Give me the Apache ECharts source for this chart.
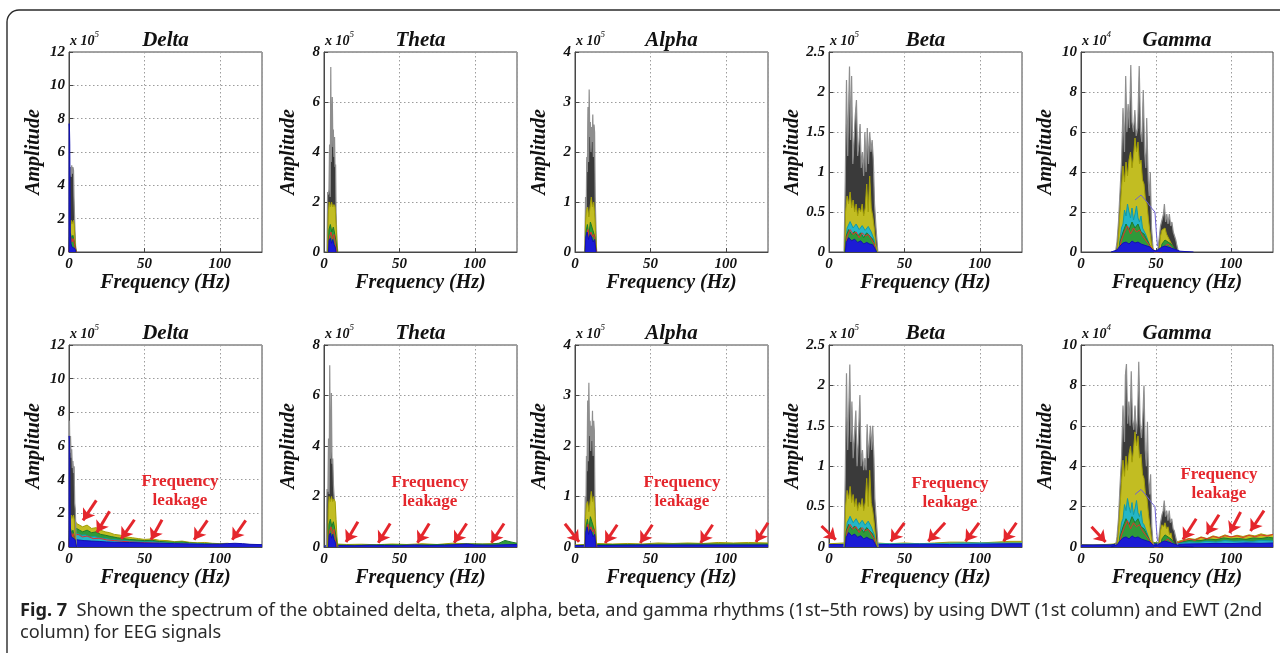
<!DOCTYPE html>
<html>
<head>
<meta charset="utf-8">
<title>EEG rhythm spectra: DWT vs EWT</title>
<script src="https://cdn.jsdelivr.net/npm/echarts@6/dist/echarts.min.js"></script>
<style>
  html, body { margin: 0; padding: 0; background: #ffffff; }
  #chart { width: 1280px; height: 653px; }
</style>
</head>
<body>
<div id="chart"></div>
<script>
// ---------------- axis settings ----------------
const rhythmNames = ['Delta', 'Theta', 'Alpha', 'Beta', 'Gamma'];
const yMaxima = [12, 8, 4, 2.5, 10];
const yIntervals = [2, 2, 1, 0.5, 2];
const exponents = ['5', '5', '5', '5', '4'];
const freqMax = 128;
const freqInterval = 50;

// ---------------- spectra: [frequency Hz, amplitude] ----------------
// Delta (amplitude x 10^5)
const deltaDwtDark = [[0,0],[0.3,5.0],[0.7,4.6],[1.0,5.1],[1.4,4.5],[1.8,5.2],[2.2,4.7],[2.6,5.1],[3.0,4.9],[3.3,3.3],[3.7,3.2],[4.0,1.2],[4.4,0.3],[4.8,0]];
const deltaDwtBlue = [[0,0],[0.1,7.7],[0.3,7.5],[0.5,6.5],[0.7,3.8],[0.9,1.2],[1.3,0.5],[2.0,0.3],[3.0,0.35],[4.0,0.2],[4.6,0]];
const deltaEwtDark = [[0,0],[0.3,7.5],[0.6,5.6],[1.0,6.6],[1.4,5.3],[1.8,5.8],[2.2,4.7],[2.6,5.1],[3.0,4.4],[3.4,4.8],[3.8,2.6],[4.2,2.2],[4.6,0.7],[5.0,0]];
const deltaEwtBlue = [[0,0],[0.1,6.6],[0.3,6.4],[0.5,5.2],[0.7,2.5],[1.0,1.0],[1.5,0.6],[2.5,0.5],[4.0,0.45],[5.0,0]];
const deltaBandYellow = [[0,0],[0.2,1.3],[0.6,1.9],[1.0,1.6],[1.5,1.9],[2.0,1.7],[2.5,1.8],[3.0,1.9],[3.5,1.6],[4.0,0.7],[4.5,0.2],[5.0,0]];
const deltaBandGreen = [[0,0],[0.3,0.9],[1.0,1.1],[1.8,0.8],[2.6,1.0],[3.4,0.9],[4.2,0.3],[4.8,0]];
const deltaBandRed = [[0,0],[0.4,0.7],[1.2,0.9],[2.0,0.6],[2.8,0.8],[3.6,0.5],[4.4,0.1],[5.0,0]];
const deltaLeakYellow = [[0,1.5],[2,1.8],[4,1.6],[5,1.4],[7,1.3],[9,1.2],[12,1.3],[15,1.1],[18,1.15],[21,1.0],[24,0.9],[27,0.85],[30,0.75],[34,0.7],[38,0.6],[42,0.55],[46,0.5],[50,0.45],[55,0.48],[60,0.4],[65,0.38],[70,0.32],[75,0.35],[80,0.28],[85,0.25],[90,0.27],[95,0.22],[100,0.2],[105,0.22],[110,0.18],[115,0.16],[120,0.15],[128,0.13]];
const deltaLeakGreen = [[0,0.9],[1.5,1.2],[3,1.0],[5,1.1],[7,1.0],[9,0.9],[12,1.0],[15,0.85],[18,0.9],[21,0.75],[24,0.7],[28,0.62],[32,0.55],[36,0.5],[40,0.45],[45,0.42],[50,0.38],[55,0.4],[60,0.33],[65,0.3],[70,0.28],[75,0.3],[80,0.24],[85,0.22],[90,0.2],[95,0.18],[100,0.17],[105,0.16],[110,0.15],[115,0.14],[120,0.12],[128,0.11]];
const deltaLeakCyan = [[0,0.7],[2,0.8],[4,0.75],[6,0.8],[8,0.7],[11,0.72],[14,0.6],[17,0.62],[20,0.55],[24,0.5],[28,0.45],[32,0.42],[36,0.38],[40,0.35],[45,0.32],[50,0.3],[55,0.31],[60,0.26],[65,0.24],[70,0.22],[75,0.23],[80,0.2],[90,0.17],[100,0.14],[110,0.12],[120,0.1],[128,0.09]];
const deltaLeakRed = [[0,0.8],[2,0.9],[4,0.7],[6,0.75],[9,0.6],[12,0.65],[16,0.5],[20,0.52],[25,0.42],[30,0.38],[35,0.34],[40,0.3],[50,0.26],[60,0.22],[70,0.2],[80,0.16],[90,0.14],[100,0.12],[110,0.11],[120,0.09],[128,0.08]];
const deltaLeakBlue = [[0,0.4],[2.5,0.5],[4,0.45],[6,0.42],[10,0.38],[15,0.35],[20,0.33],[25,0.3],[30,0.28],[40,0.27],[50,0.24],[60,0.22],[70,0.2],[80,0.18],[90,0.16],[100,0.17],[105,0.2],[110,0.22],[115,0.2],[120,0.16],[128,0.14]];

// Theta (amplitude x 10^5)
const thetaDwtDark = [[2.0,0],[2.4,2.4],[2.9,2.3],[3.3,2.5],[3.7,4.3],[4.1,2.2],[4.5,7.4],[4.8,3.6],[5.2,5.0],[5.5,6.2],[5.9,4.2],[6.2,4.9],[6.6,3.8],[7.0,4.6],[7.3,3.4],[7.7,3.5],[8.0,1.6],[8.4,0.8],[8.8,0]];
const thetaEwtDark = [[1.5,0],[2.0,2.3],[2.6,2.2],[3.0,4.3],[3.4,2.1],[3.8,7.2],[4.2,3.5],[4.6,4.0],[4.9,6.1],[5.3,3.3],[5.8,3.5],[6.3,2.4],[6.8,1.9],[7.2,1.0],[7.7,0]];
const thetaBandYellow = [[2.4,0],[2.8,1.5],[3.4,2.0],[4.2,1.8],[5.0,2.0],[5.8,1.8],[6.6,1.9],[7.4,1.8],[8.0,1.1],[8.6,0.4],[9.2,0]];
const thetaBandGreen = [[2.8,0],[3.3,0.9],[4.2,1.1],[5.2,0.8],[6.2,1.0],[7.2,0.7],[8.0,0.4],[8.8,0]];
const thetaBandRed = [[3.0,0],[3.6,0.6],[4.6,0.8],[5.6,0.5],[6.6,0.7],[7.6,0.3],[8.4,0]];
const thetaBandBlue = [[3.0,0],[3.4,0.45],[4.2,0.55],[5.0,0.35],[5.8,0.5],[6.6,0.3],[7.4,0.2],[8.0,0]];
const thetaLeakYellow = [[0,0.05],[8,0.12],[15,0.1],[25,0.11],[35,0.09],[45,0.12],[55,0.1],[65,0.13],[75,0.1],[85,0.15],[95,0.13],[105,0.12],[115,0.14],[128,0.12]];
const thetaLeakGreen = [[0,0.04],[10,0.08],[20,0.07],[40,0.09],[60,0.08],[80,0.1],[95,0.12],[110,0.11],[116,0.15],[120,0.26],[124,0.2],[128,0.15]];
const thetaLeakBlue = [[0,0.04],[10,0.06],[20,0.05],[30,0.07],[40,0.06],[50,0.05],[60,0.08],[70,0.06],[80,0.07],[90,0.1],[95,0.12],[100,0.08],[110,0.07],[120,0.09],[128,0.1]];

// Alpha (amplitude x 10^5)
const alphaDwtDark = [[6.5,0],[7.0,1.1],[7.4,0.7],[7.8,1.9],[8.2,1.6],[8.6,2.9],[9.0,1.8],[9.4,3.25],[9.8,2.3],[10.2,2.6],[10.6,2.0],[11.0,2.5],[11.4,2.2],[11.8,2.75],[12.2,1.9],[12.6,2.55],[13.0,2.4],[13.4,1.1],[13.8,0.6],[14.3,0]];
const alphaEwtDark = [[6.3,0],[6.8,1.0],[7.2,0.6],[7.6,1.8],[8.0,1.5],[8.4,2.9],[8.8,1.7],[9.2,3.25],[9.6,2.2],[10.0,2.5],[10.4,1.9],[10.8,2.4],[11.2,2.1],[11.6,2.7],[12.0,1.8],[12.4,2.5],[12.8,2.3],[13.2,1.0],[13.6,0.5],[14.1,0]];
const alphaBandYellow = [[6.6,0],[7.0,0.6],[7.6,0.85],[8.4,0.9],[9.2,0.7],[10.0,0.9],[10.8,1.1],[11.6,0.9],[12.4,1.0],[13.2,0.7],[13.8,0.3],[14.4,0]];
const alphaBandGreen = [[6.8,0],[7.3,0.4],[8.2,0.55],[9.2,0.35],[10.2,0.6],[11.2,0.5],[12.2,0.4],[13.2,0.3],[14.0,0]];
const alphaBandRed = [[7.0,0],[7.6,0.3],[8.6,0.45],[9.6,0.25],[10.6,0.4],[11.6,0.3],[12.6,0.35],[13.6,0.1],[14.2,0]];
const alphaBandBlue = [[6.7,0],[7.2,0.3],[8.0,0.4],[9.0,0.25],[10.0,0.35],[11.0,0.3],[12.0,0.2],[13.0,0.25],[14.0,0]];
const alphaLeakYellow = [[0,0.04],[6,0.05],[15,0.07],[25,0.06],[35,0.07],[45,0.06],[55,0.08],[65,0.07],[75,0.08],[85,0.07],[95,0.09],[105,0.08],[115,0.09],[128,0.08]];
const alphaLeakGreen = [[0,0.03],[15,0.05],[40,0.05],[70,0.06],[100,0.06],[128,0.06]];
const alphaLeakBlue = [[0,0.03],[20,0.03],[50,0.04],[80,0.04],[110,0.04],[128,0.04]];

// Beta (amplitude x 10^5)
const betaDwtDark = [[10,0],[10.8,0.9],[11.6,2.15],[12.4,1.2],[13.0,1.8],[13.6,2.32],[14.3,1.4],[15.0,2.2],[15.8,1.1],[16.6,1.4],[17.4,1.7],[18.2,1.9],[19.0,1.2],[19.8,1.35],[20.6,1.6],[21.4,1.05],[22.2,1.25],[23.0,0.95],[23.8,1.5],[24.6,1.0],[25.4,1.55],[26.2,1.1],[27.0,1.5],[27.8,1.25],[28.6,1.4],[29.4,1.15],[30.2,0.6],[31.2,0.3],[32.4,0]];
const betaEwtDark = [[10,0],[10.8,0.9],[11.6,2.15],[12.4,1.2],[13.0,1.6],[13.8,2.26],[14.5,1.3],[15.2,1.8],[16.0,1.1],[16.8,1.35],[17.8,1.69],[18.6,1.0],[19.4,1.3],[20.5,1.88],[21.3,1.0],[22.2,1.2],[23.0,0.95],[23.8,1.1],[24.6,0.95],[25.3,1.52],[26.1,1.1],[26.8,1.3],[27.5,1.5],[28.3,1.2],[29.0,1.5],[29.8,1.1],[30.4,0.6],[31.5,0.3],[32.6,0]];
const betaBandYellow = [[10.4,0],[11,0.5],[12,0.7],[13,0.6],[14,0.75],[15,0.55],[16,0.65],[17,0.5],[18,0.6],[19,0.45],[20,0.55],[21,0.5],[22,0.6],[23,0.45],[24,0.55],[25,0.85],[26,0.5],[27,0.95],[28,0.55],[29,0.45],[30,0.3],[31,0.1],[32,0]];
const betaBandCyan = [[10.8,0],[12,0.3],[14,0.38],[16,0.3],[18,0.35],[20,0.28],[22,0.33],[24,0.27],[26,0.32],[28,0.25],[30,0.15],[31,0]];
const betaBandGreen = [[10.6,0],[11.4,0.2],[13,0.28],[15,0.22],[17,0.26],[19,0.2],[21,0.24],[23,0.18],[25,0.24],[27,0.2],[29,0.16],[30.5,0.06],[31.5,0]];
const betaBandRed = [[11,0],[12,0.2],[14,0.28],[16,0.22],[18,0.25],[20,0.18],[22,0.24],[24,0.2],[26,0.22],[28,0.16],[30,0.1],[31,0]];
const betaBandBlue = [[10.8,0],[11.5,0.12],[13,0.18],[15,0.14],[17,0.16],[19,0.12],[21,0.14],[23,0.1],[25,0.12],[27,0.1],[29,0.09],[30.5,0.04],[31.5,0]];
const betaLeakYellow = [[0,0.04],[10,0.05],[32,0.05],[40,0.04],[50,0.05],[60,0.04],[70,0.05],[80,0.06],[90,0.06],[100,0.05],[110,0.06],[120,0.07],[128,0.07]];
const betaLeakCyan = [[0,0.03],[30,0.04],[60,0.04],[90,0.05],[128,0.05]];
const betaLeakBlue = [[0,0.03],[20,0.03],[40,0.03],[60,0.035],[80,0.03],[100,0.035],[120,0.04],[128,0.04]];

// Gamma (amplitude x 10^4)
const gammaDwtDark = [[23,0],[24,0.5],[25,1.5],[26,3.0],[27,4.5],[28,7.2],[29,5.0],[29.8,8.8],[30.6,6.0],[31.4,7.4],[32.3,6.2],[33.2,9.35],[34.0,6.5],[35.0,6.0],[35.9,7.1],[36.8,5.8],[37.8,6.2],[38.8,9.3],[39.7,6.0],[40.6,5.5],[41.5,8.1],[42.4,5.0],[43.2,4.2],[43.8,6.7],[44.8,3.6],[45.5,2.8],[46.2,4.0],[47.0,1.2],[48.0,0.2],[49,0],[51,0],[52,0.6],[53,1.3],[54,1.6],[55,1.9],[55.6,2.4],[56.4,1.5],[57.2,1.9],[58.0,1.4],[58.9,1.9],[59.8,1.3],[60.6,1.5],[61.5,1.0],[62.3,0.9],[63.2,0.6],[64,0.3],[65,0]];
const gammaEwtDark = [[23,0],[24,0.5],[25,1.4],[26,3.0],[27,4.4],[28,7.0],[29,5.2],[29.6,8.5],[30.3,9.06],[31.1,6.1],[31.9,7.2],[32.7,6.0],[33.5,8.7],[34.3,6.3],[35.2,5.8],[36.0,7.0],[36.9,5.6],[37.7,6.3],[38.5,9.17],[39.4,6.1],[40.3,5.4],[41.2,6.4],[42.0,8.0],[42.8,4.8],[43.6,4.0],[44.3,6.2],[45.0,3.4],[45.8,2.6],[46.4,3.6],[47.2,1.0],[48.0,0.2],[49,0],[51,0],[52,0.5],[53,1.2],[54,1.6],[54.8,1.8],[55.5,2.3],[56.3,1.5],[57.1,1.8],[58.0,1.3],[58.8,1.8],[59.6,1.2],[60.5,1.4],[61.4,0.9],[62.2,0.8],[63.1,0.5],[64,0.2],[65,0]];
const gammaBandYellow = [[24,0],[25,0.8],[26,2.0],[27,3.2],[28,4.3],[29,3.5],[30,4.5],[31,3.8],[32,4.6],[33,5.0],[34,4.2],[35,4.8],[36,5.7],[37,5.0],[38,5.5],[39,4.4],[40,4.6],[41,3.6],[42,3.4],[43,2.6],[44,2.4],[45,1.6],[46,1.0],[47,0.4],[48,0.1],[49,0],[52,0],[53,0.8],[54,1.1],[55,1.0],[56,1.2],[57,0.9],[58,1.0],[59,0.6],[60,0.7],[61,0.3],[62,0.2],[63,0]];
const gammaBandCyan = [[25,0],[26,0.6],[27,1.2],[28,1.4],[29,2.1],[30,1.8],[31,2.4],[32,2.0],[33,1.7],[34,2.2],[35,1.6],[36,1.9],[37,2.3],[38,1.7],[39,1.5],[40,1.8],[41,1.2],[42,1.1],[43,0.9],[44,0.7],[45,0.5],[46,0.3],[47,0.1],[48,0]];
const gammaBandGreen = [[25,0],[26,0.5],[28,1.0],[30,1.4],[32,1.1],[34,1.5],[36,1.2],[38,1.4],[40,1.0],[42,0.9],[44,0.6],[46,0.3],[48,0.05],[49,0],[53,0],[54,0.4],[56,0.6],[58,0.5],[60,0.4],[62,0.2],[64,0]];
const gammaBandRed = [[25,0],[27,0.6],[29,1.0],[31,1.3],[33,0.9],[35,1.2],[37,1.0],[39,1.1],[41,0.8],[43,0.6],[45,0.4],[47,0.2],[49,0],[54,0],[56,0.3],[58,0.4],[60,0.25],[62,0.1],[64,0]];
const gammaBandBlue = [[20,0],[24,0.1],[26,0.3],[28,0.45],[30,0.5],[32,0.4],[34,0.55],[36,0.45],[38,0.5],[40,0.4],[42,0.35],[44,0.3],[46,0.25],[48,0.1],[50,0.05],[52,0.15],[54,0.25],[56,0.3],[58,0.25],[60,0.2],[62,0.15],[64,0.1],[66,0.04],[70,0.02],[75,0]];
const gammaBandViolet = [[36,2.6],[40,2.85],[44,2.5],[47,2.2],[49.3,2.0],[50.2,1.0],[51,0.3]];
const gammaLeakYellow = [[0,0.12],[8,0.1],[16,0.12],[22,0.15],[26,0.3],[46,0.3],[50,0.2],[60,0.25],[65,0.28],[68,0.35],[72,0.42],[76,0.38],[80,0.5],[84,0.42],[88,0.55],[92,0.48],[96,0.6],[100,0.5],[104,0.58],[108,0.52],[112,0.6],[116,0.55],[120,0.65],[124,0.58],[128,0.62]];
const gammaLeakGreen = [[0,0.08],[20,0.1],[26,0.2],[60,0.2],[65,0.22],[70,0.3],[75,0.35],[80,0.32],[85,0.4],[90,0.36],[95,0.45],[100,0.4],[105,0.42],[110,0.38],[115,0.45],[120,0.42],[125,0.48],[128,0.45]];
const gammaLeakCyan = [[0,0.06],[60,0.15],[66,0.18],[72,0.25],[78,0.22],[84,0.28],[90,0.25],[96,0.32],[102,0.28],[108,0.3],[114,0.27],[120,0.33],[128,0.3]];
const gammaLeakRed = [[64,0.2],[68,0.3],[72,0.4],[76,0.33],[80,0.48],[84,0.4],[88,0.52],[92,0.45],[96,0.56],[100,0.5],[104,0.55],[108,0.47],[112,0.58],[116,0.5],[120,0.6],[124,0.54],[128,0.62]];
const gammaLeakBlue = [[0,0.1],[10,0.1],[20,0.1],[24,0.15],[48,0.15],[56,0.15],[64,0.12],[70,0.15],[80,0.16],[90,0.18],[100,0.17],[110,0.2],[120,0.18],[128,0.2]];

// Leakage arrows, each [[tail f, tail amp], [head f, head amp]]
const deltaArrows = [[[18.1,2.77],[9.3,1.58]],[[26.9,2.12],[18.5,0.87]],[[43.4,1.62],[34.6,0.48]],[[61.7,1.62],[54.4,0.43]],[[91.8,1.58],[83.0,0.43]],[[117.2,1.58],[108.3,0.43]]];
const thetaArrows = [[[22.5,1.0],[14.6,0.2]],[[43.9,0.93],[36.0,0.17]],[[69.8,0.93],[62.0,0.17]],[[94.6,0.93],[86.3,0.17]],[[119.4,0.93],[111.0,0.17]]];
const alphaArrows = [[[-6.7,0.46],[2.7,0.1]],[[28.0,0.44],[20.0,0.08]],[[51.3,0.44],[43.3,0.08]],[[91.3,0.44],[83.3,0.08]],[[128.0,0.48],[120.0,0.1]]];
const betaArrows = [[[-5.0,0.26],[4.5,0.09]],[[50.0,0.3],[41.0,0.07]],[[77.0,0.3],[65.8,0.07]],[[99.5,0.3],[90.5,0.07]],[[124.3,0.3],[115.8,0.07]]];
const gammaArrows = [[[7.0,1.0],[16.4,0.25]],[[76.8,1.4],[68.0,0.37]],[[92.0,1.6],[83.8,0.63]],[[106.4,1.73],[99.1,0.69]],[[122.0,1.8],[113.0,0.79]]];

// ---------------- layout & styles ----------------
const COL_LEFT = [69, 324, 575, 829, 1081];
const ROW_TOP = [52, 345];
const ROW_H = [200, 202];
const PLOT_W = 193;
const SERIF = '"Liberation Serif", "Times New Roman", serif';
const INK = '#111111';

const layerStyle = {
  dark:   { area: '#3a3a3a', line: '#8e8e8e', width: 1.2 },
  yellow: { area: '#c2bd22', line: '#a39f08', width: 1 },
  cyan:   { area: '#25b6c6', line: '#129aa8', width: 1 },
  green:  { area: '#2f9a3a', line: '#1e7a2a', width: 1 },
  red:    { area: null,      line: '#e2302b', width: 1 },
  blue:   { area: '#1c1cd6', line: '#1212b0', width: 1 },
  violet: { area: null,      line: '#6e62d4', width: 1 }
};

const panels = [
  // first row: DWT
  { row: 0, col: 0, layers: [['dark', deltaDwtDark], ['yellow', deltaBandYellow], ['green', deltaBandGreen], ['red', deltaBandRed], ['blue', deltaDwtBlue]] },
  { row: 0, col: 1, layers: [['dark', thetaDwtDark], ['yellow', thetaBandYellow], ['green', thetaBandGreen], ['red', thetaBandRed], ['blue', thetaBandBlue]] },
  { row: 0, col: 2, layers: [['dark', alphaDwtDark], ['yellow', alphaBandYellow], ['green', alphaBandGreen], ['red', alphaBandRed], ['blue', alphaBandBlue]] },
  { row: 0, col: 3, layers: [['dark', betaDwtDark], ['yellow', betaBandYellow], ['cyan', betaBandCyan], ['green', betaBandGreen], ['red', betaBandRed], ['blue', betaBandBlue]] },
  { row: 0, col: 4, layers: [['dark', gammaDwtDark], ['yellow', gammaBandYellow], ['cyan', gammaBandCyan], ['green', gammaBandGreen], ['red', gammaBandRed], ['blue', gammaBandBlue], ['violet', gammaBandViolet]] },
  // second row: EWT (with leakage outside the band)
  { row: 1, col: 0, arrows: deltaArrows, note: [180, 491],
    layers: [['yellow', deltaLeakYellow], ['green', deltaLeakGreen], ['cyan', deltaLeakCyan], ['red', deltaLeakRed], ['blue', deltaLeakBlue],
             ['dark', deltaEwtDark], ['yellow', deltaBandYellow], ['green', deltaBandGreen], ['red', deltaBandRed], ['blue', deltaEwtBlue]] },
  { row: 1, col: 1, arrows: thetaArrows, note: [430, 492],
    layers: [['yellow', thetaLeakYellow], ['green', thetaLeakGreen], ['blue', thetaLeakBlue],
             ['dark', thetaEwtDark], ['yellow', thetaBandYellow], ['green', thetaBandGreen], ['red', thetaBandRed], ['blue', thetaBandBlue]] },
  { row: 1, col: 2, arrows: alphaArrows, note: [682, 492],
    layers: [['yellow', alphaLeakYellow], ['green', alphaLeakGreen], ['blue', alphaLeakBlue],
             ['dark', alphaEwtDark], ['yellow', alphaBandYellow], ['green', alphaBandGreen], ['red', alphaBandRed], ['blue', alphaBandBlue]] },
  { row: 1, col: 3, arrows: betaArrows, note: [950, 493],
    layers: [['yellow', betaLeakYellow], ['cyan', betaLeakCyan], ['blue', betaLeakBlue],
             ['dark', betaEwtDark], ['yellow', betaBandYellow], ['cyan', betaBandCyan], ['green', betaBandGreen], ['red', betaBandRed], ['blue', betaBandBlue]] },
  { row: 1, col: 4, arrows: gammaArrows, note: [1219, 484],
    layers: [['yellow', gammaLeakYellow], ['green', gammaLeakGreen], ['cyan', gammaLeakCyan], ['red', gammaLeakRed], ['blue', gammaLeakBlue],
             ['dark', gammaEwtDark], ['yellow', gammaBandYellow], ['cyan', gammaBandCyan], ['green', gammaBandGreen], ['red', gammaBandRed], ['blue', gammaBandBlue], ['violet', gammaBandViolet]] }
];

const grids = [], xAxes = [], yAxes = [], series = [], graphics = [];

// outer figure frame
graphics.push({
  type: 'rect', z: 0, silent: true,
  shape: { x: 7, y: 10, width: 1320, height: 700, r: 12 },
  style: { fill: 'none', stroke: '#2a2a2a', lineWidth: 1.4 }
});

panels.forEach((p, i) => {
  const left = COL_LEFT[p.col];
  const top = ROW_TOP[p.row];
  const h = ROW_H[p.row];
  const w = p.col === 4 ? PLOT_W - 1 : PLOT_W;

  grids.push({ left: left, top: top, width: w, height: h, show: true, borderColor: '#474747', borderWidth: 1, backgroundColor: 'transparent' });

  const labelStyle = { fontFamily: SERIF, fontStyle: 'italic', fontWeight: 'bold', fontSize: 15, color: INK };
  const splitStyle = { show: true, lineStyle: { color: '#9c9c9c', type: [1.5, 2.5], width: 1 } };

  xAxes.push({
    gridIndex: i, type: 'value', min: 0, max: freqMax, interval: freqInterval,
    axisLine: { show: true, onZero: false, lineStyle: { color: '#474747' } },
    axisTick: { show: true, inside: true, length: 4, lineStyle: { color: '#474747' } },
    axisLabel: Object.assign({ margin: 5, showMaxLabel: false,
      formatter: v => (v % freqInterval === 0 ? String(v) : '') }, labelStyle),
    splitLine: splitStyle,
    name: 'Frequency (Hz)', nameLocation: 'middle', nameGap: 19,
    nameTextStyle: { fontFamily: SERIF, fontStyle: 'italic', fontWeight: 'bold', fontSize: 20, color: INK }
  });

  yAxes.push({
    gridIndex: i, type: 'value', min: 0, max: yMaxima[p.col], interval: yIntervals[p.col],
    axisLine: { show: true, onZero: false, lineStyle: { color: '#474747' } },
    axisTick: { show: true, inside: true, length: 4, lineStyle: { color: '#474747' } },
    axisLabel: Object.assign({ margin: 4 }, labelStyle),
    splitLine: splitStyle,
    name: 'Amplitude', nameLocation: 'middle', nameGap: 25, nameRotate: 90,
    nameTextStyle: { fontFamily: SERIF, fontStyle: 'italic', fontWeight: 'bold', fontSize: 20, color: INK }
  });

  p.layers.forEach((layer, k) => {
    const st = layerStyle[layer[0]];
    const s = {
      type: 'line', xAxisIndex: i, yAxisIndex: i, data: layer[1],
      symbol: 'none', showSymbol: false, silent: true, animation: false,
      lineStyle: { color: st.line, width: st.width },
      z: 2 + k * 0.01
    };
    if (st.area) s.areaStyle = { color: st.area, opacity: 1 };
    series.push(s);
  });

  if (p.arrows) {
    series.push({
      type: 'lines', coordinateSystem: 'cartesian2d', xAxisIndex: i, yAxisIndex: i,
      clip: false, silent: true, animation: false, z: 10,
      symbol: ['none', 'arrow'], symbolSize: 11,
      lineStyle: { color: '#e4262c', width: 3, opacity: 1, curveness: 0 },
      data: p.arrows.map(a => ({ coords: a }))
    });
    graphics.push({
      type: 'text', z: 20, silent: true,
      x: p.note[0], y: p.note[1],
      style: {
        text: 'Frequency\nleakage', fill: '#e4262c',
        font: 'bold 17px ' + SERIF, textAlign: 'center', textVerticalAlign: 'middle', lineHeight: 19
      }
    });
  }

  // panel title and exponent marker
  const titleY = top - 11;
  graphics.push({
    type: 'text', z: 20, silent: true, x: left + w / 2, y: titleY,
    style: { text: rhythmNames[p.col], font: 'italic bold 21px ' + SERIF, fill: INK, textAlign: 'center', textVerticalAlign: 'middle' }
  });
  graphics.push({
    type: 'text', z: 20, silent: true, x: left + 1, y: titleY - 2,
    style: {
      text: '{a|x 10}{s|' + exponents[p.col] + '}',
      textAlign: 'left', textVerticalAlign: 'middle',
      rich: {
        a: { fontFamily: SERIF, fontStyle: 'italic', fontWeight: 'bold', fontSize: 14, fill: INK, lineHeight: 18, verticalAlign: 'bottom' },
        s: { fontFamily: SERIF, fontStyle: 'italic', fontSize: 9, fill: INK, lineHeight: 18, verticalAlign: 'top' }
      }
    }
  });
});

// figure caption
const CAPTION_FONT = '"Noto Sans", "Open Sans", sans-serif';
graphics.push({
  type: 'text', z: 20, silent: true, x: 20, y: 611,
  style: {
    text: '{b|Fig. 7}  Shown the spectrum of the obtained delta, theta, alpha, beta, and gamma rhythms (1st\u20135th rows) by using DWT (1st column) and EWT (2nd',
    font: '18.2px ' + CAPTION_FONT, fill: '#2a2a2a', textVerticalAlign: 'middle',
    rich: { b: { fontFamily: CAPTION_FONT, fontWeight: 'bold', fontSize: 18.2, fill: '#1f1f1f' } }
  }
});
graphics.push({
  type: 'text', z: 20, silent: true, x: 20, y: 633,
  style: { text: 'column) for EEG signals', font: '18.2px ' + CAPTION_FONT, fill: '#2a2a2a', textVerticalAlign: 'middle' }
});

const chart = echarts.init(document.getElementById('chart'), null, { renderer: 'canvas' });
chart.setOption({
  backgroundColor: '#ffffff',
  animation: false,
  grid: grids,
  xAxis: xAxes,
  yAxis: yAxes,
  series: series,
  graphic: graphics
});
</script>
</body>
</html>
